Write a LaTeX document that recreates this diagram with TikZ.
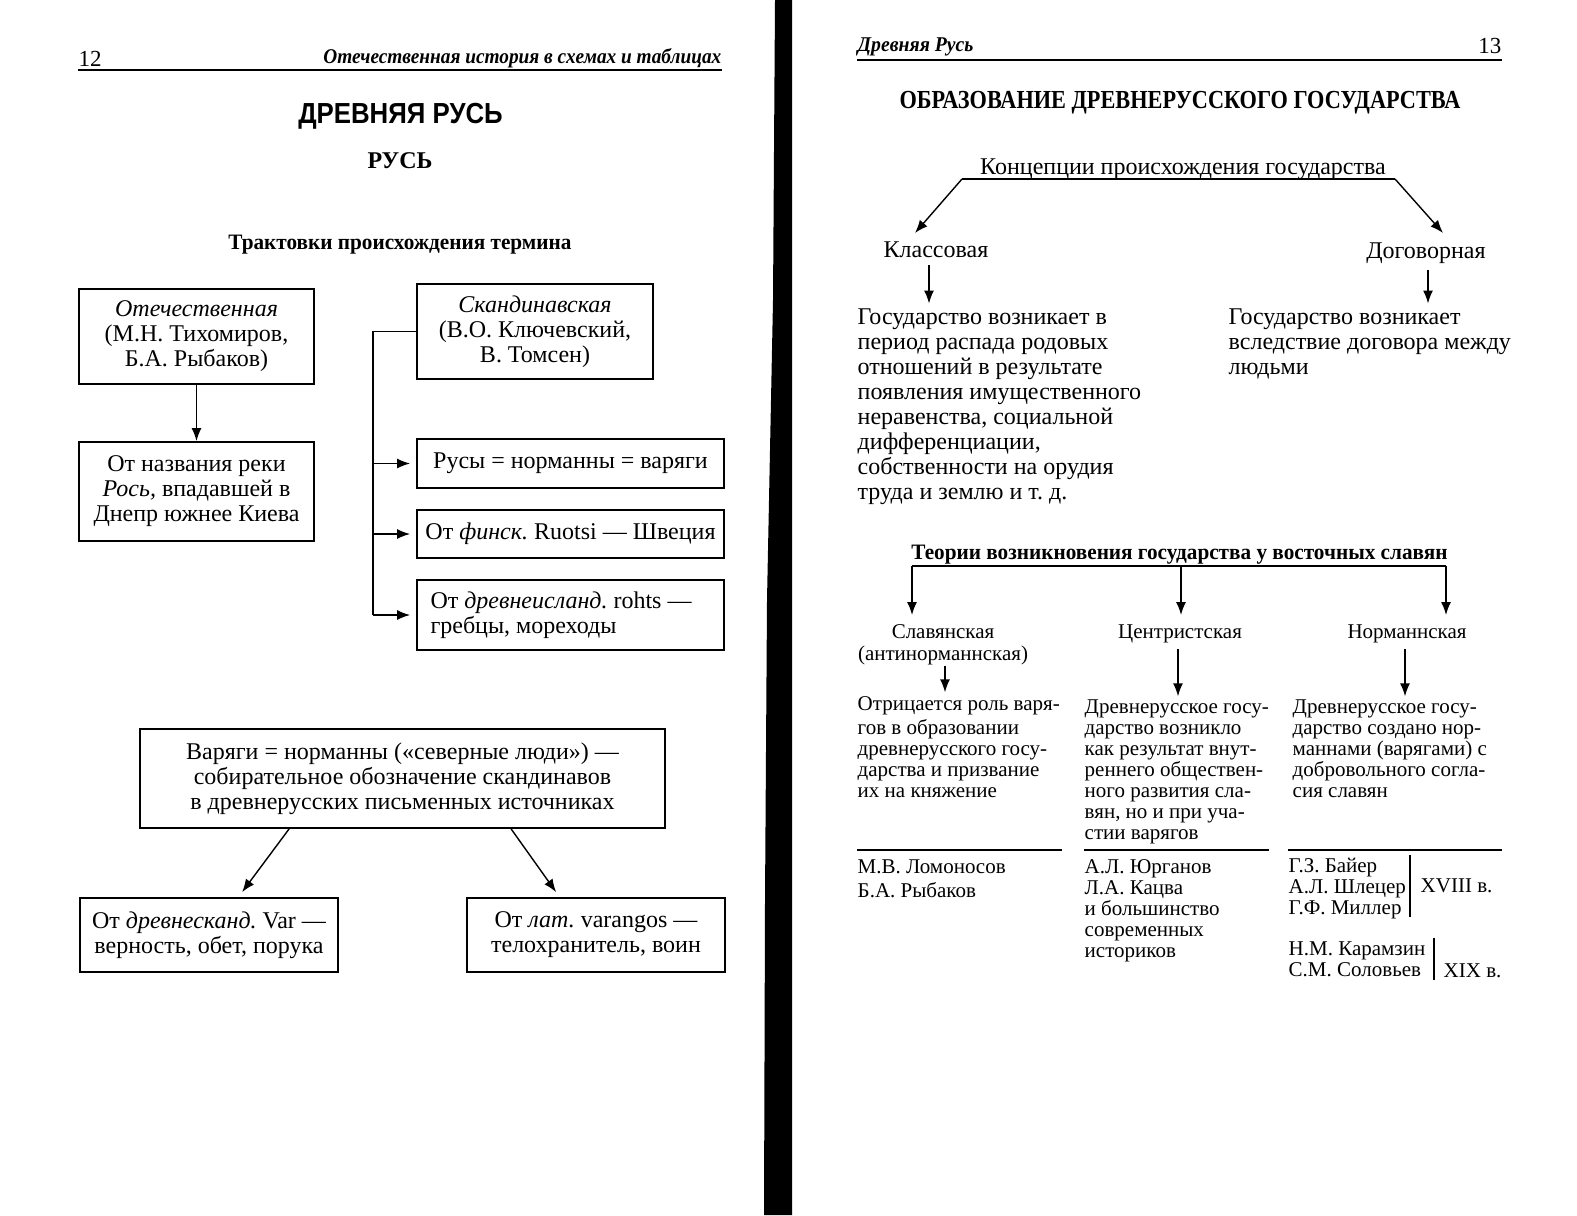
\documentclass[tikz,border=0pt]{standalone}
\usepackage{graphicx}
\usepackage{fontspec}
\setmainfont{Liberation Serif}
\newfontfamily\hsans{Liberation Sans}
\usetikzlibrary{arrows.meta}
\newcommand\myBody{\fontsize{12}{12.5}\selectfont}
\newcommand\mySmall{\fontsize{10.5}{10.5}\selectfont}
\newcommand\mySmallB{\fontsize{10.5}{11}\selectfont}
\frenchspacing
\begin{document}
\frenchspacing
\begin{tikzpicture}[x=0.5pt,y=-0.5pt,line width=0.7pt,
  box/.style={draw,line width=0.9pt,align=center,inner sep=0pt,font=\myBody},
  arr/.style={-{Latex[length=6.5pt,width=5pt]}},
  plain/.style={inner sep=0pt,font=\myBody},
  plains/.style={inner sep=0pt,font=\mySmall},
  txt/.style={anchor=north west,inner sep=0pt,align=left,font=\myBody},
  txts/.style={anchor=north west,inner sep=0pt,align=left,font=\mySmall}]
\useasboundingbox (0,0) rectangle (1577,1215);
\fill[white] (0,0) rectangle (1577,1215);
% spine
\fill[black] (775,0) -- (792,0) -- (792,1215) -- (764,1215) -- (765,900) -- (767,600) -- (773,300) -- cycle;

% ---------- left page ----------
\node[anchor=base west,inner sep=0pt,font=\fontsize{11.5}{13}\selectfont] (p12) at (78,66) {12};
\node[anchor=base east,inner sep=0pt,font=\fontsize{10.5}{12}\selectfont\bfseries\itshape] (h12) at (722,63) {\scalebox{0.92}[1]{Отечественная история в схемах и таблицах}};
\coordinate (hla) at (78,70); \coordinate (hlb) at (722,70);
\draw[line width=0.8pt] (hla) -- (hlb);

\node[anchor=base,inner sep=0pt,font=\hsans\bfseries\fontsize{14.5}{16}\selectfont] (t1) at (400.5,123) {\scalebox{0.89}[1]{ДРЕВНЯЯ РУСЬ}};
\node[anchor=base,inner sep=0pt,font=\bfseries\fontsize{12}{14}\selectfont] (t2) at (400,168) {РУСЬ};
\node[anchor=base,inner sep=0pt,font=\bfseries\fontsize{11}{13}\selectfont] (t3) at (400,249) {\scalebox{0.965}[1]{Трактовки происхождения термина}};

\node[box,minimum width=117.5pt,minimum height=47.5pt] (A) at (196.5,336.5) {\textit{Отечественная}\\(М.Н. Тихомиров,\\Б.А. Рыбаков)};
\node[box,minimum width=117.5pt,minimum height=49.5pt] (B) at (196.5,491.5) {От названия реки\\{\itshape Рось,} впадавшей в\\Днепр южнее Киева};
\node[box,minimum width=118pt,minimum height=47.5pt] (C) at (535,331.5) {\textit{Скандинавская}\\(В.О. Ключевский,\\В. Томсен)};
\node[box,minimum width=153.5pt,minimum height=24.5pt] (D) at (570.5,463.5) {Русы = норманны = варяги};
\node[box,minimum width=153.5pt,minimum height=24pt] (E) at (570.5,534) {От {\itshape финск.} Ruotsi — Швеция};
\node[box,minimum width=153.5pt,minimum height=35pt,text width=140pt,align=flush left,inner xsep=6.75pt] (F) at (570.5,615) {От {\itshape древнеисланд.} rohts —\\гребцы, мореходы};
\node[box,minimum width=262.5pt,minimum height=49.5pt] (G) at (402.5,778.5) {Варяги = норманны («северные люди») —\\собирательное обозначение скандинавов\\в древнерусских письменных источниках};
\node[box,minimum width=129pt,minimum height=37pt] (H) at (209,935) {От {\itshape древнесканд.} Var —\\верность, обет, порука};
\node[box,minimum width=129pt,minimum height=37pt] (I) at (596,935) {От {\itshape лат.} varangos —\\телохранитель, воин};

\draw[arr] (A.south) -- (B.north);
\coordinate (cb) at (373,331.5);
\draw (C.west) -- (cb) -- (cb |- F.west);
\draw[arr,shorten >=3pt] (cb |- D.west) -- (D.west);
\draw[arr,shorten >=3pt] (cb |- E.west) -- (E.west);
\draw[arr,shorten >=3pt] (cb |- F.west) -- (F.west);
\draw[arr] ([xshift=75pt]G.south west) -- ([xshift=81.5pt,yshift=2.5pt]H.north west);
\draw[arr] ([xshift=186pt]G.south west) -- ([xshift=45pt,yshift=2.5pt]I.north west);

% ---------- right page ----------
\node[anchor=base west,inner sep=0pt,font=\bfseries\itshape\fontsize{10.5}{12}\selectfont] (h13) at (857,51) {\scalebox{0.94}[1]{Древняя Русь}};
\node[anchor=base east,inner sep=0pt,font=\fontsize{11.5}{13}\selectfont] (p13) at (1502,53) {13};
\coordinate (hra) at (857,60); \coordinate (hrb) at (1502,60);
\draw[line width=0.8pt] (hra) -- (hrb);
\node[anchor=base,inner sep=0pt,font=\bfseries\fontsize{13}{15}\selectfont] (t4) at (1180,108) {\scalebox{0.857}[1]{ОБРАЗОВАНИЕ ДРЕВНЕРУССКОГО ГОСУДАРСТВА}};

\node[plain,anchor=base] (kon) at (1183,174) {Концепции происхождения государства};
\coordinate (kl) at (962,179); \coordinate (kr) at (1395,179);
\coordinate (kla) at (915,233); \coordinate (kra) at (1443,233);
\draw (kl) -- (kr);
\draw[arr] (kl) -- (kla);
\draw[arr] (kr) -- (kra);

\node[plain,anchor=base] (kls) at (936,257) {Классовая};
\node[plain,anchor=base] (dog) at (1426,258) {Договорная};
\node[txt] (kt) at (857,306.5) {\strut Государство возникает в\\период распада родовых\\отношений в результате\\появления имущественного\\неравенства, социальной\\дифференциации,\\собственности на орудия\\труда и землю и т. д.};
\node[txt] (dt) at (1228,306.5) {\strut Государство возникает\\вследствие договора между\\людьми};
\draw[arr] ([xshift=-3.5pt,yshift=-3.5pt]kls.south) -- ([xshift=-3.5pt,yshift=1.5pt]kls.south |- kt.north);
\draw[arr] ([xshift=1pt,yshift=-3pt]dog.south) -- ([xshift=1pt,yshift=1.5pt]dog.south |- dt.north);

\node[anchor=base,inner sep=0pt,font=\bfseries\fontsize{11}{13}\selectfont] (teo) at (1179.5,559) {\scalebox{0.965}[1]{Теории возникновения государства у восточных славян}};
\coordinate (tl) at (912,566); \coordinate (tm) at (1181,566); \coordinate (tr) at (1446,566);
\coordinate (tla) at (912,615); \coordinate (tma) at (1181,615); \coordinate (tra) at (1446,615);
\draw (tl) -- (tr);
\draw[arr] (tl) -- (tla);
\draw[arr] (tm) -- (tma);
\draw[arr] (tr) -- (tra);

\node[anchor=north,inner sep=0pt,align=center,font=\mySmallB] (sl) at (943,622.6) {\strut Славянская\\(антинорманнская)};
\node[plains,anchor=base] (ce) at (1180,638) {Центристская};
\node[plains,anchor=base] (no) at (1407,638) {Норманнская};

\node[txts] (c1) at (857,695.3) {\strut Отрицается роль варя-\\гов в образовании\\древнерусского госу-\\дарства и призвание\\их на княжение};
\node[txts] (c2) at (1084,698.3) {\strut Древнерусское госу-\\дарство возникло\\как результат внут-\\реннего обществен-\\ного развития сла-\\вян, но и при уча-\\стии варягов};
\node[txts] (c3) at (1292,698.3) {\strut Древнерусское госу-\\дарство создано нор-\\маннами (варягами) с\\добровольного согла-\\сия славян};

\draw[arr] ([xshift=1pt]sl.south) -- ([xshift=1pt,yshift=1.5pt]sl.south |- c1.north);
\draw[arr] ([xshift=-1pt,yshift=-3pt]ce.south) -- ([xshift=-1pt,yshift=1pt]ce.south |- c2.north);
\draw[arr] ([xshift=-1pt,yshift=-3pt]no.south) -- ([xshift=-1pt,yshift=1pt]no.south |- c3.north);

\coordinate (r1a) at (857,850); \coordinate (r1b) at (1062,850);
\coordinate (r2a) at (1084,850); \coordinate (r2b) at (1269,850);
\coordinate (r3a) at (1288,850); \coordinate (r3b) at (1502,850);
\draw (r1a) -- (r1b); \draw (r2a) -- (r2b); \draw (r3a) -- (r3b);

\node[txts] (n1) at (857,858.3) {\strut М.В. Ломоносов\\Б.А. Рыбаков};
\node[txts] (n2) at (1084,858.3) {\strut А.Л. Юрганов\\Л.А. Кацва\\и большинство\\современных\\историков};
\node[txts] (n3) at (1288,857.3) {\strut Г.З. Байер\\А.Л. Шлецер\\Г.Ф. Миллер};
\node[plains,anchor=base west] (v18) at (1420,892) {XVIII в.};
\node[txts] (n4) at (1288,940.3) {\strut Н.М. Карамзин\\С.М. Соловьев};
\node[plains,anchor=base west] (v19) at (1443,977) {XIX в.};
\coordinate (b1a) at (1410,855); \coordinate (b1b) at (1410,917);
\coordinate (b2a) at (1434,938); \coordinate (b2b) at (1434,980);
\draw (b1a) -- (b1b); \draw (b2a) -- (b2b);
\end{tikzpicture}
\end{document}
